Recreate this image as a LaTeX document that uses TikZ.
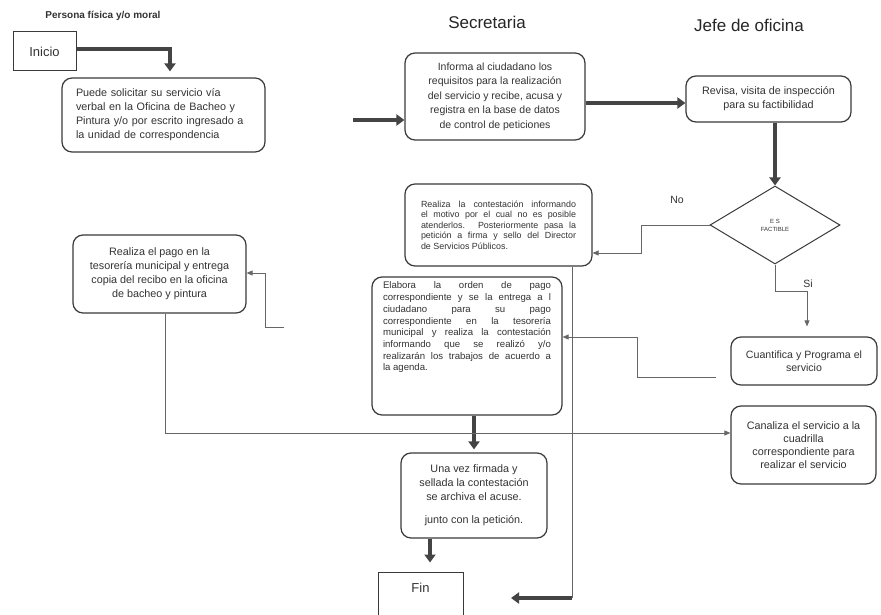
\documentclass[tikz,border=0pt]{standalone}
\usepackage{fontspec}
\setmainfont{Liberation Sans}
\usetikzlibrary{arrows.meta,shapes.geometric}

\definecolor{ink}{HTML}{3A3A3A}
\definecolor{flowink}{HTML}{444444}
\definecolor{wire}{HTML}{666666}
\definecolor{txt}{HTML}{333333}

% one line of justified text, spread to a fixed width (in pt)
\newcommand{\spreadline}[2]{\makebox[#1pt][s]{#2}}

\begin{document}
\begin{tikzpicture}[x=1pt,y=-1pt,
  every node/.style={text=txt, inner sep=0pt},
  roundbox/.style={draw=ink, line width=1.2pt, rounded corners=10pt, align=center},
  termbox/.style={draw=ink, line width=1pt},
  bigflow/.style={draw=flowink, line width=4pt, -{Triangle[width=11pt,length=8pt]}},
  flow/.style={draw=wire, line width=0.8pt, -{Triangle[width=5pt,length=6pt]}},
  plain/.style={draw=wire, line width=0.8pt},
  lanehead/.style={text=black!85, font=\fontsize{17}{20}\selectfont},
]
\fill[white] (0,0) rectangle (881,615);
\useasboundingbox (0,0) rectangle (881,615);

% lane headings
\node[font=\bfseries\fontsize{10}{12}\selectfont] (hdrper) at (103,16) {Persona física y/o moral};
\node[lanehead] (hdrsec) at (487,22) {Secretaria};
\node[lanehead] (hdrjefe) at (749,25) {Jefe de oficina};

% process steps
\node[termbox, minimum width=63, minimum height=39, font=\fontsize{13}{15}\selectfont] (inicio) at (44.5,51.5) {Inicio};

\node[roundbox, minimum width=203, minimum height=74, text width=175, align=left,
      font=\fontsize{10.8}{14}\selectfont] (pide) at (163.5,115)
  {Puede solicitar su servicio vía\\verbal en la Oficina de Bacheo y\\Pintura y/o por escrito ingresado a\\la unidad de correspondencia};

\node[roundbox, minimum width=180, minimum height=87, font=\fontsize{10.5}{14.5}\selectfont] (informa) at (495,96.5)
  {Informa al ciudadano los\\requisitos para la realización\\del servicio y recibe, acusa y\\registra en la base de datos\\de control de peticiones};

\node[roundbox, minimum width=165, minimum height=46, font=\fontsize{10.8}{14}\selectfont] (revisa) at (768.5,99)
  {Revisa, visita de inspección\\para su factibilidad};

\node[draw=ink, line width=1pt, diamond, minimum width=130, minimum height=78, align=center,
      font=\fontsize{6}{8}\selectfont] (factible) at (775,225) {E S\\FACTIBLE};

\node[roundbox, minimum width=187, minimum height=82, align=left, font=\fontsize{8.9}{10.4}\selectfont] (norespuesta) at (498.5,225)
  {\spreadline{155}{Realiza la contestación informando}\\
   \spreadline{155}{el motivo por el cual no es posible}\\
   \spreadline{155}{atenderlos. Posteriormente pasa la}\\
   \spreadline{155}{petición a firma y sello del Director}\\
   de Servicios Públicos.};

\node[roundbox, minimum width=173, minimum height=78, font=\fontsize{10.8}{14}\selectfont] (pago) at (159.5,274)
  {Realiza el pago en la\\tesorería municipal y entrega\\copia del recibo en la oficina\\de bacheo y pintura};

\node[roundbox, minimum width=190, minimum height=138, font=\fontsize{9.6}{11.7}\selectfont] (elabora) at (467,346)
  {\parbox[c][128pt][t]{168pt}{%
   \spreadline{168}{Elabora la orden de pago}\\
   \spreadline{168}{correspondiente y se la entrega a l}\\
   \spreadline{168}{ciudadano para su pago}\\
   \spreadline{168}{correspondiente en la tesorería}\\
   \spreadline{168}{municipal y realiza la contestación}\\
   \spreadline{168}{informando que se realizó y/o}\\
   \spreadline{168}{realizarán los trabajos de acuerdo a}\\
   la agenda.}};

\node[roundbox, minimum width=146, minimum height=48, font=\fontsize{10.6}{13}\selectfont] (cuantifica) at (804,361)
  {Cuantifica y Programa el\\servicio};

\node[roundbox, minimum width=145, minimum height=78, font=\fontsize{10.8}{13}\selectfont] (canaliza) at (803.5,445)
  {Canaliza el servicio a la\\cuadrilla\\correspondiente para\\realizar el servicio};

\node[roundbox, minimum width=146, minimum height=85, font=\fontsize{10.8}{14}\selectfont] (archiva) at (474,495.5)
  {Una vez firmada y\\sellada la contestación\\se archiva el acuse.\\[9pt]junto con la petición.};

\node[termbox, minimum width=85, minimum height=48, text depth=17pt, font=\fontsize{13}{15}\selectfont] (fin) at (420.5,596) {Fin};

% branch labels
\node[font=\fontsize{10.5}{12}\selectfont] (nolbl) at (677,200) {No};
\node[font=\fontsize{10.5}{12}\selectfont] (silbl) at (808,284) {Si};

% levels used by the connectors
\coordinate (rowA) at (0,49);
\coordinate (rowB) at (0,103);
\coordinate (rowNo) at (0,253);
\coordinate (rowQ) at (0,377);
\coordinate (rowE) at (0,337);
\coordinate (rowP) at (0,327);
\coordinate (rowPago) at (0,273);
\coordinate (rowC) at (0,433);
\coordinate (s1) at (353,120);
\coordinate (turn) at (572,598);
\path (cuantifica.west |- rowQ) ++(-14,0) coordinate (qstart);
\path (elabora.west |- rowP) ++(-87,0) coordinate (pstart);
\path (turn) ++(-61,0) coordinate (finend);

% main flow (heavy arrows)
\draw[bigflow, shorten >=6pt] (inicio.east |- rowA) -| ([xshift=6.5pt]pide.north);
\draw[bigflow] (s1) -- (s1 -| informa.west);
\draw[bigflow] (informa.east |- rowB) -- (revisa.west |- rowB);
\draw[bigflow] (revisa.south -| factible.north) -- (factible.north);
\draw[bigflow, shorten >=3pt] (elabora.south -| archiva.north) -- (archiva.north);
\draw[bigflow, shorten >=9pt] ([xshift=-44pt]archiva.south) -- ([xshift=9.5pt]fin.north);

% decision branches and side connectors
\draw[flow] (factible.west) -- ++(-68,0) |- (norespuesta.east |- rowNo);
\draw[flow, shorten >=10pt] (factible.south) -- ++(0,27) -| ([xshift=3pt]cuantifica.north);
\draw[flow] (qstart) -- ++(-79,0) |- (elabora.east |- rowE);
\draw[flow] (pstart) -- ++(-19,0) |- (pago.east |- rowPago);
\draw[flow] ([xshift=5.5pt]pago.south) |- (canaliza.west |- rowC);
\draw[plain] (norespuesta.south -| turn) -- (turn);
\draw[bigflow] (turn) -- (finend);
\end{tikzpicture}
\end{document}
